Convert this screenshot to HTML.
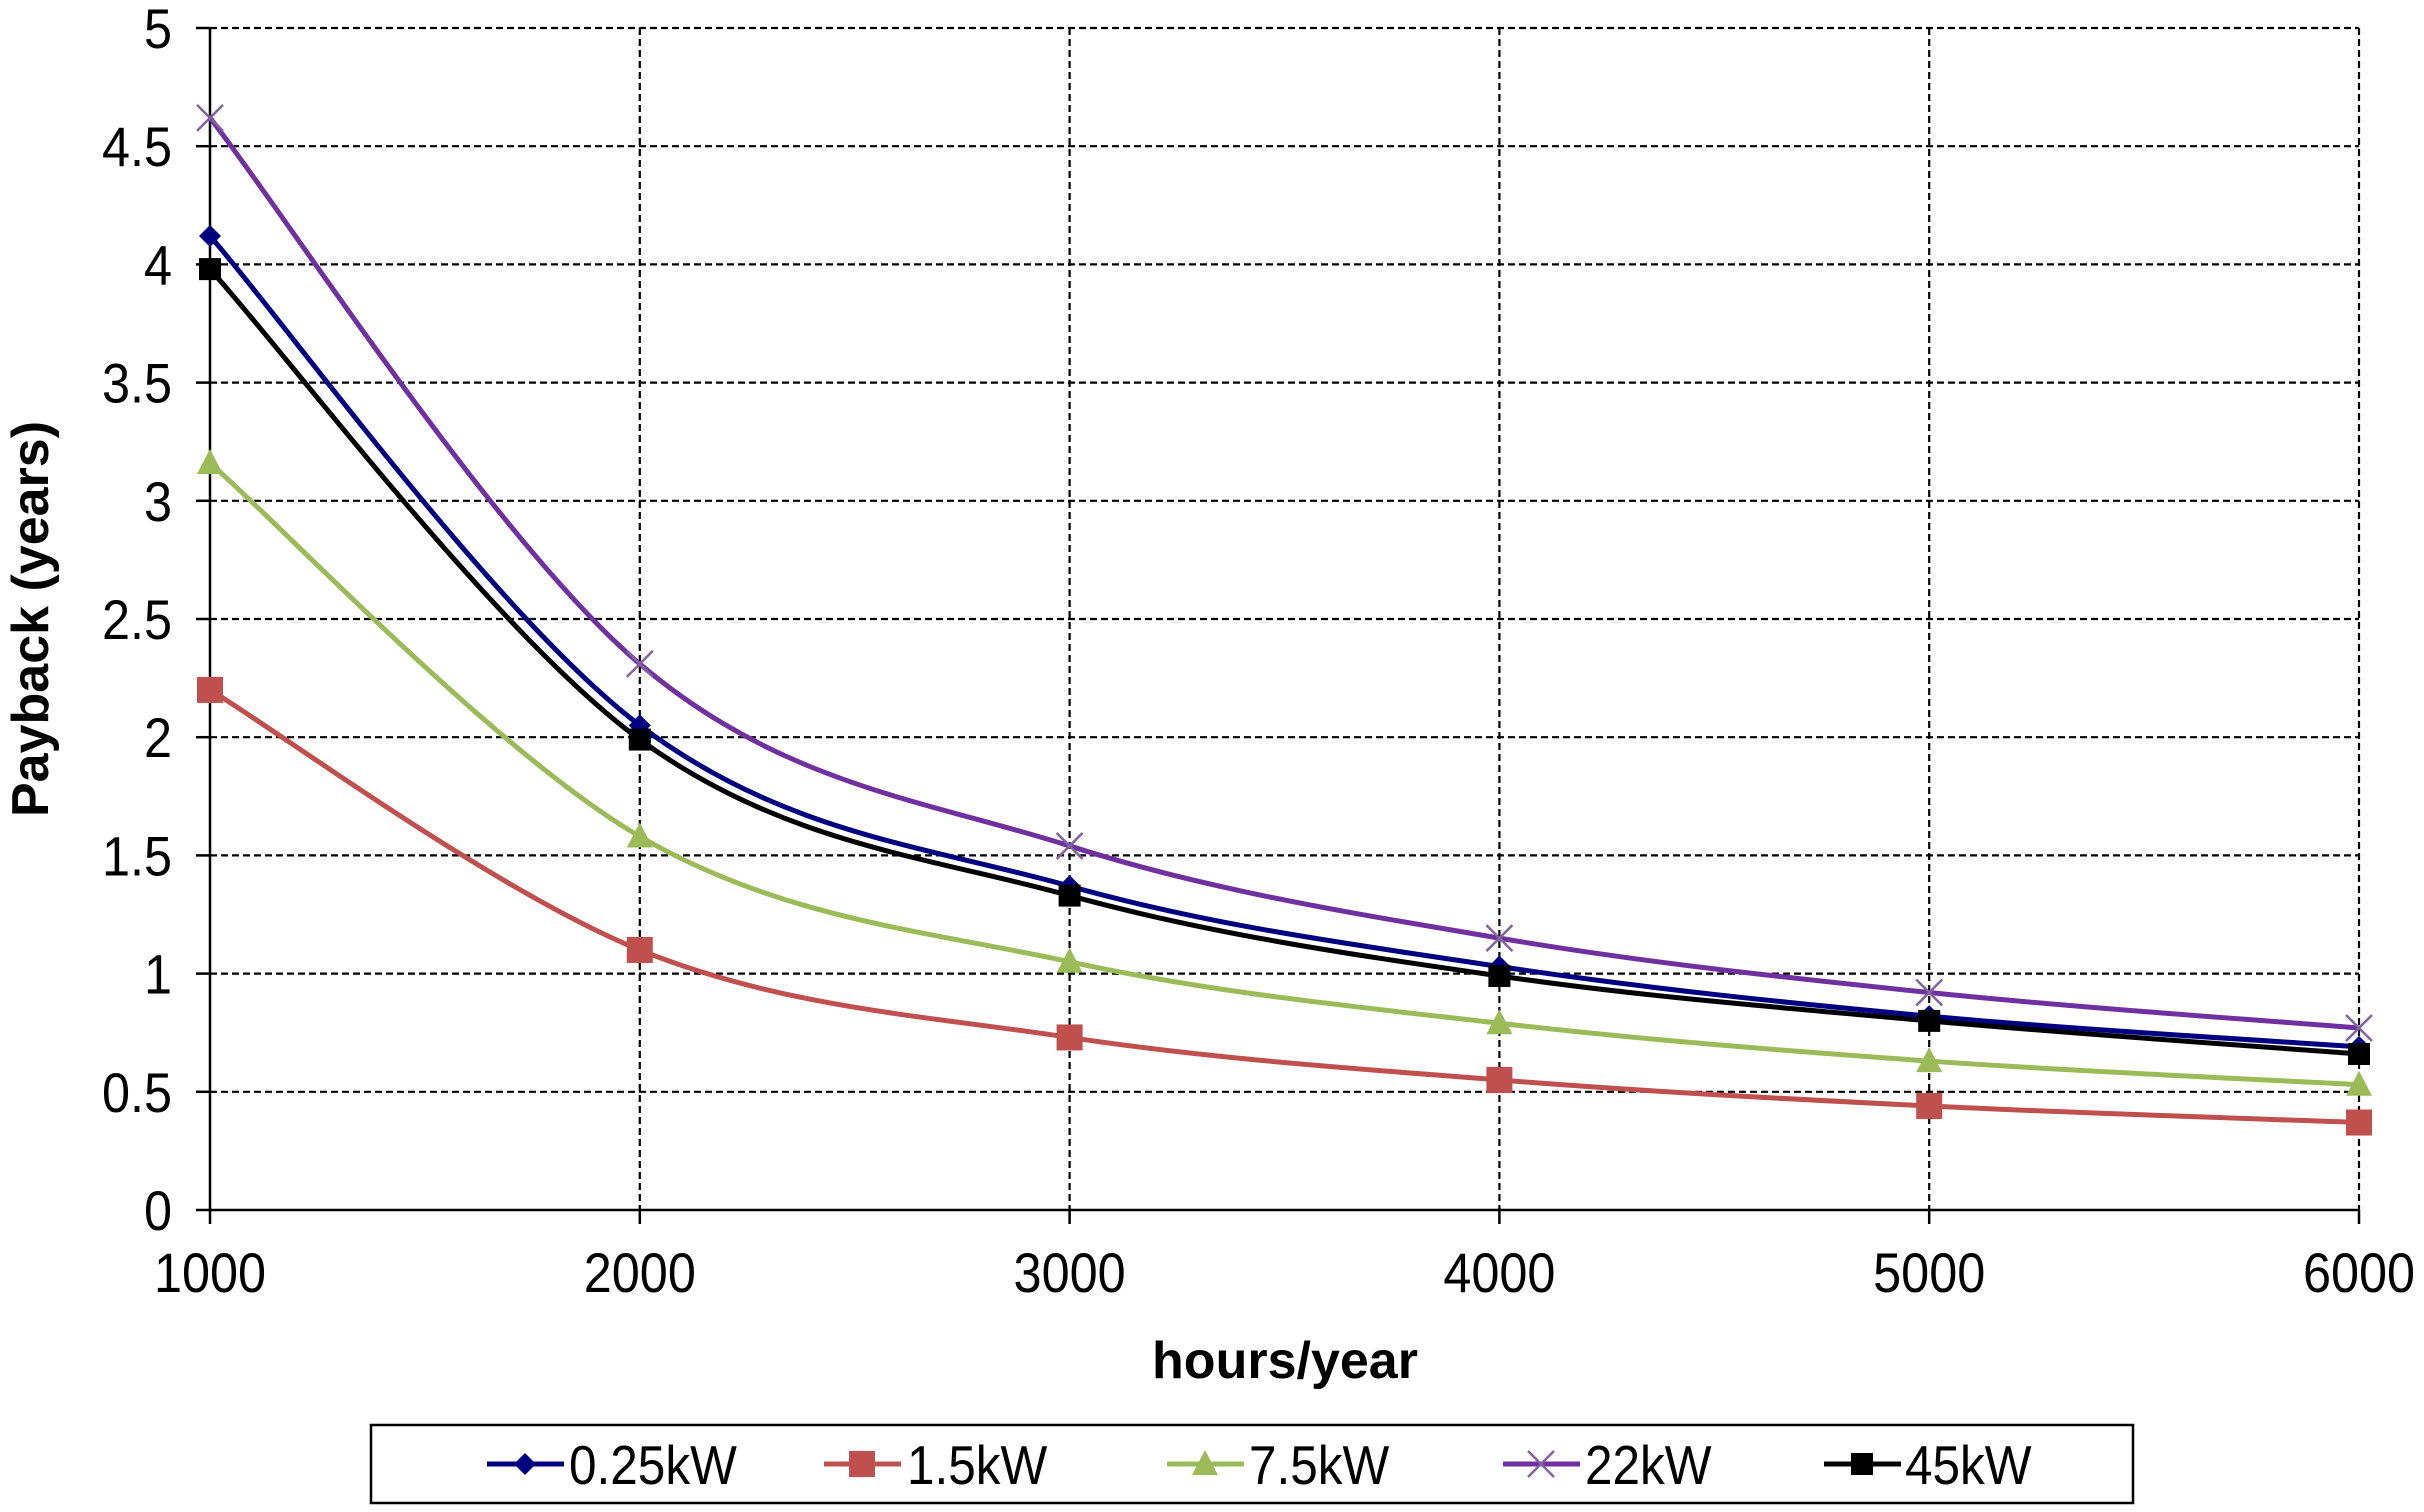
<!DOCTYPE html>
<html><head><meta charset="utf-8"><style>
html,body{margin:0;padding:0;background:#fff;}
svg{display:block;font-family:"Liberation Sans",Arial,sans-serif;}
</style></head><body>
<svg id="s" width="2424" height="1512" viewBox="0 0 2424 1512" xmlns="http://www.w3.org/2000/svg"></svg>
<script>
const s=document.getElementById('s');
const X0=210,X1=2359,Y0=1210,Y5=28;
const xp=v=>X0+(v-1000)/5000*(X1-X0);
const yp=v=>Y0-v/5*(Y0-Y5);
const T=(x,y,sz,txt,anc,extra='')=>`<text transform="translate(${x},${y}) scale(0.9,1)" font-size="${sz}" text-anchor="${anc}" ${extra}>${txt}</text>`;
let h='';
for(let i=1;i<=10;i++){const y=yp(i*0.5);h+=`<line x1="${X0}" x2="${X1}" y1="${y}" y2="${y}" stroke="#000" stroke-width="2.2" stroke-dasharray="7,4"/>`;}
for(let i=1;i<=5;i++){const x=xp(1000+i*1000);h+=`<line x1="${x}" x2="${x}" y1="${Y5}" y2="${Y0}" stroke="#000" stroke-width="2.2" stroke-dasharray="7,4"/>`;}
h+=`<line x1="${X0}" x2="${X0}" y1="${Y5}" y2="${Y0}" stroke="#000" stroke-width="2.5"/>`;
h+=`<line x1="${X0}" x2="${X1}" y1="${Y0}" y2="${Y0}" stroke="#000" stroke-width="2.5"/>`;
for(let i=0;i<=10;i++){const y=yp(i*0.5);h+=`<line x1="${X0-14}" x2="${X0}" y1="${y}" y2="${y}" stroke="#000" stroke-width="2.5"/>`;
 h+=T(X0-38,y+20,56,i*0.5,'end');}
for(let i=0;i<=5;i++){const x=xp(1000+i*1000);h+=`<line x1="${x}" x2="${x}" y1="${Y0}" y2="${Y0+14}" stroke="#000" stroke-width="2.5"/>`;
 h+=T(x,Y0+82,56,1000+i*1000,'middle');}
h+=`<text x="1285" y="1378" font-size="52" font-weight="bold" text-anchor="middle">hours/year</text>`;
h+=`<text transform="translate(48,619) rotate(-90)" font-size="52" font-weight="bold" text-anchor="middle">Payback (years)</text>`;
const S=[
 ['#000080','d',[4.12,2.05,1.37,1.03,0.82,0.69],'0.25kW'],
 ['#C0504D','s',[2.2,1.1,0.73,0.55,0.44,0.37],'1.5kW'],
 ['#9BBB59','t',[3.16,1.58,1.05,0.79,0.63,0.53],'7.5kW'],
 ['#7030A0','x',[4.62,2.31,1.54,1.15,0.92,0.77],'22kW'],
 ['#000000','q',[3.98,1.99,1.33,0.99,0.80,0.66],'45kW']];
function mk(t,c,x,y){
 if(t=='d')return `<polygon points="${x},${y-11} ${x+11},${y} ${x},${y+11} ${x-11},${y}" fill="${c}"/>`;
 if(t=='s')return `<rect x="${x-13}" y="${y-13}" width="26" height="26" fill="${c}"/>`;
 if(t=='q')return `<rect x="${x-11}" y="${y-11}" width="22" height="22" fill="${c}"/>`;
 if(t=='t')return `<polygon points="${x},${y-14} ${x+13},${y+11} ${x-13},${y+11}" fill="${c}"/>`;
 if(t=='x')return `<path d="M${x-13},${y-13}L${x+13},${y+13}M${x+13},${y-13}L${x-13},${y+13}" stroke="#8064A2" stroke-width="2.5"/>`;
}
const order=[1,2,0,4,3];
for(const k of order){const [c,t,d]=S[k];
 const P=d.map((v,i)=>[xp(1000+i*1000),yp(v)]);
 let p=`M${P[0][0]},${P[0][1]}`;
 for(let i=0;i<P.length-1;i++){const a=P[Math.max(i-1,0)],b=P[i],e=P[i+1],f=P[Math.min(i+2,P.length-1)];
  const c1=[b[0]+(e[0]-a[0])/6,b[1]+(e[1]-a[1])/6],c2=[e[0]-(f[0]-b[0])/6,e[1]-(f[1]-b[1])/6];
  p+=`C${c1[0]},${c1[1]} ${c2[0]},${c2[1]} ${e[0]},${e[1]}`;}
 h+=`<path d="${p}" fill="none" stroke="${c}" stroke-width="5"/>`;
 P.forEach(q=>h+=mk(t,c,q[0],q[1]));}
h+=`<rect x="371" y="1425" width="1762" height="78" fill="#fff" stroke="#000" stroke-width="2.5"/>`;
const L=[[487,569],[824,907],[1167,1249],[1503,1585],[1824,1905]];
S.forEach((q,i)=>{const [a,tx]=L[i];const y=1464;
 h+=`<line x1="${a}" x2="${a+77}" y1="${y}" y2="${y}" stroke="${q[0]}" stroke-width="5"/>`+mk(q[1],q[0],a+38,y);
 h+=T(tx,y+20,55,q[3],'start');});
s.innerHTML=h;
</script>
</body></html>
